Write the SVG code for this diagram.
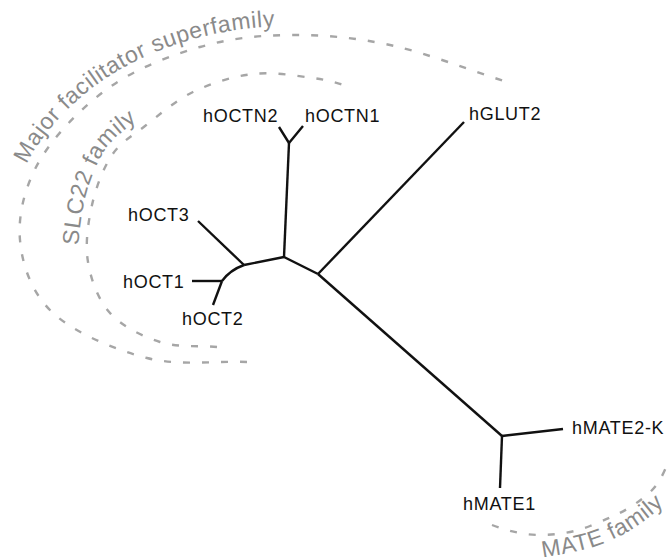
<svg xmlns="http://www.w3.org/2000/svg" width="668" height="557" viewBox="0 0 668 557">
<defs>
<style>
.lbl{font-family:"Liberation Sans",Arial,sans-serif;font-size:18px;fill:#111;letter-spacing:0.7px}
.fam{font-family:"Liberation Sans",Arial,sans-serif;font-size:23px;fill:#8a8a8a;letter-spacing:0.6px}
.arc{fill:none;stroke:#a6a6a6;stroke-width:2.4;stroke-dasharray:7 12}
.edge{fill:none;stroke:#111;stroke-width:2.4;stroke-linecap:butt;stroke-linejoin:round}
</style>
<path id="tpOuter" d="M11,242 C9,214 16,182 32,154 C48,127 77,97 105,79 C133,60 167,46 197,38 C228,30 258,26 290,26 C322,26 355,28 392,36"/>
<path id="tpInner" d="M78,300 C79,285 80,275 80,263 C77,244 80,222 84,203 C88,184 96,164 105,150 C114,137 126,129 139,119 C153,108 170,93 188,85 C206,77 230,68 252,66"/>
<path id="tpMate" d="M510,560 C530,560 560,556 590,548 C615,541 640,526 660,508 C670,498 677,488 682,476"/>
</defs>
<rect width="668" height="557" fill="#fff"/>
<g id="families">
<path class="arc" d="M247,362 C213.7,360.7 179.3,366.2 147,358 C114.7,349.8 74.2,332.7 53,313 C31.8,293.3 22.2,265.5 20,240 C17.8,214.5 25,185.5 40,160 C55,134.5 83.3,105.8 110,87 C136.7,68.2 170,55.7 200,47 C230,38.3 258.3,35.3 290,35 C321.7,34.7 353.8,37.2 390,45 C426.2,52.8 468,69.7 507,82"/>
<path class="arc" d="M217,347 C198,345.3 177.8,347.7 160,342 C142.2,336.3 122,326.3 110,313 C98,299.7 91,280 88,262 C85,244 88,222.8 92,205 C96,187.2 103.2,168.2 112,155 C120.8,141.8 131.5,136.5 145,126 C158.5,115.5 175,100.7 193,92 C211,83.3 233,76.3 253,74 C273,71.7 296.5,75.8 313,78 C329.5,80.2 339,84 352,87"/>
<path class="arc" d="M492,525 C508,531 524,535 540,535 C558,535 575,532 590,526 C607,519 622,513 635,504 C648,495 656,488 662,476 C667,466 670,458 672,448"/>
<text class="fam"><textPath href="#tpOuter" startOffset="80">Major facilitator superfamily</textPath></text>
<text class="fam"><textPath href="#tpInner" startOffset="55">SLC22 family</textPath></text>
<text class="fam"><textPath href="#tpMate" startOffset="33">MATE family</textPath></text>
</g>
<g id="connectors">
<path class="edge" d="M192,281 L222,281"/>
<path class="edge" d="M213,305 L222,281"/>
<path class="edge" d="M222,281 Q230,270 244,265"/>
<path class="edge" d="M198,221 L244,265"/>
<path class="edge" d="M244,265 L284,257"/>
<path class="edge" d="M284,257 L289,143"/>
<path class="edge" d="M279,127 L289,143 L303,126"/>
<path class="edge" d="M284,257 L318,274"/>
<path class="edge" d="M318,274 L464,122"/>
<path class="edge" d="M318,274 L502,436"/>
<path class="edge" d="M502,436 L563,429"/>
<path class="edge" d="M502,436 L500,488"/>
</g>
<g id="node-hOCTN2"><text class="lbl" x="203" y="122">hOCTN2</text></g>
<g id="node-hOCTN1"><text class="lbl" x="305" y="122">hOCTN1</text></g>
<g id="node-hGLUT2"><text class="lbl" x="469" y="120">hGLUT2</text></g>
<g id="node-hOCT3"><text class="lbl" x="128" y="221">hOCT3</text></g>
<g id="node-hOCT1"><text class="lbl" x="123" y="288">hOCT1</text></g>
<g id="node-hOCT2"><text class="lbl" x="182" y="325">hOCT2</text></g>
<g id="node-hMATE2-K"><text class="lbl" x="572" y="434">hMATE2-K</text></g>
<g id="node-hMATE1"><text class="lbl" x="463" y="510">hMATE1</text></g>
</svg>
